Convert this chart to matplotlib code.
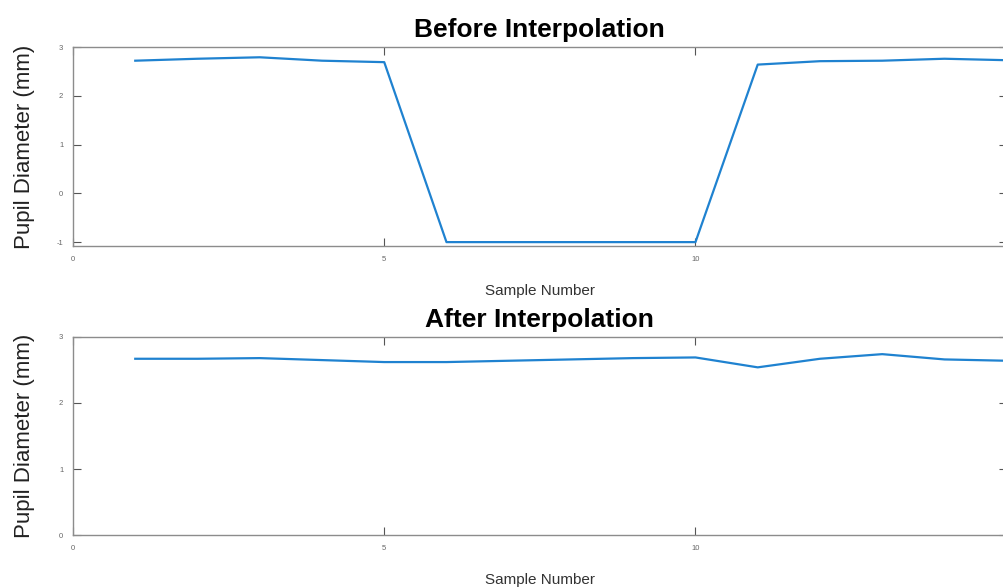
import matplotlib.pyplot as plt

plt.rcParams['font.family'] = ['Liberation Sans', 'DejaVu Sans']
plt.rcParams['axes.unicode_minus'] = False

# sample index and pupil diameter readings
samples = list(range(1, 16))
before = [2.72, 2.76, 2.79, 2.72, 2.69, -1, -1, -1, -1, -1, 2.64, 2.71, 2.72, 2.76, 2.73]
after = [2.67, 2.67, 2.68, 2.65, 2.62, 2.62, 2.64, 2.66, 2.68, 2.69, 2.54, 2.67, 2.74, 2.66, 2.64]

line_color = '#1f82d0'
axis_gray = '#8c8c8c'

fig = plt.figure(figsize=(10.04, 5.88), dpi=100)
ax1 = fig.add_axes([0.0727, 0.5816, 0.930, 0.3384])
ax2 = fig.add_axes([0.0727, 0.0901, 0.930, 0.3368])

def style(ax, ylim, yticks, title):
    ax.set_xlim(0, 15)
    ax.set_ylim(*ylim)
    ax.set_xticks([0, 5, 10, 15])
    ax.set_yticks(yticks)
    ax.tick_params(direction='in', top=True, right=True, length=6, width=0.8,
                   color='#555555', labelsize=5.5, labelcolor='#666666', pad=7)
    for s in ax.spines.values():
        s.set_color(axis_gray)
        s.set_linewidth(1.0)
    ax.set_title(title, fontsize=19, fontweight='bold', pad=7)
    ax.set_ylabel('Pupil Diameter (mm)', fontsize=16, color='#222222')
    ax.yaxis.set_label_coords(-0.041, 0.5)
    ax.set_xlabel('Sample Number', fontsize=11, color='#333333', labelpad=15)

ax1.plot(samples, before, color=line_color, linewidth=1.6)
style(ax1, (-1.08, 3), [-1, 0, 1, 2, 3], 'Before Interpolation')

ax2.plot(samples, after, color=line_color, linewidth=1.6)
style(ax2, (0, 3), [0, 1, 2, 3], 'After Interpolation')

fig.savefig('out.png', dpi=100)
